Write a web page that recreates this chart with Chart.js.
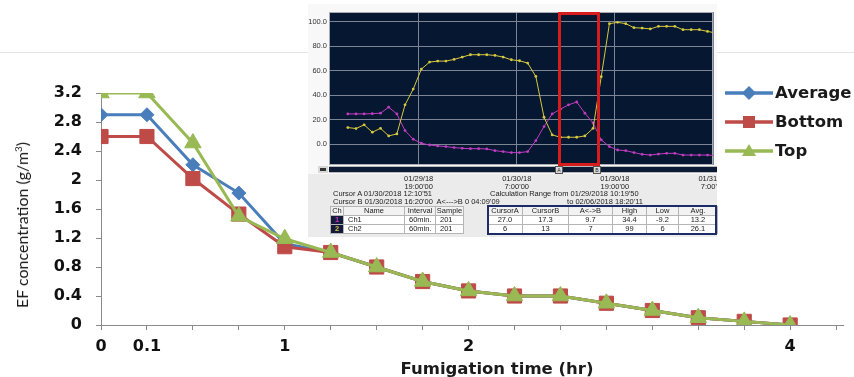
<!DOCTYPE html>
<html>
<head>
<meta charset="utf-8">
<script src="https://cdn.jsdelivr.net/npm/chart.js@4.4.1/dist/chart.umd.min.js"></script>
<style>
html,body{margin:0;padding:0;background:#fff;}
#wrap{position:relative;width:854px;height:377px;overflow:hidden;background:#fff;font-family:"Liberation Sans",Arial,sans-serif;}
#hline{position:absolute;left:0;top:52px;width:854px;height:1px;background:#e4e4e4;}
#main{position:absolute;left:0;top:0;}
#ytitle{position:absolute;left:22px;top:225px;transform:translate(-50%,-50%) rotate(-90deg);white-space:nowrap;font-family:Lato,sans-serif;font-size:16px;color:#1a1a1a;line-height:18px;}
#ytitle sup{font-size:10px;vertical-align:6px;line-height:0;}
#xtitle{position:absolute;left:497px;top:360px;transform:translateX(-50%);white-space:nowrap;font-family:"DejaVu Sans",sans-serif;font-weight:bold;font-size:16.5px;color:#1a1a1a;line-height:18px;}
.lg{position:absolute;left:725px;height:20px;display:flex;align-items:center;}
.lg svg{display:block;}
.lg span{margin-left:2px;font-family:"DejaVu Sans",sans-serif;font-weight:bold;font-size:16.5px;color:#1a1a1a;line-height:20px;}
#insetBg{position:absolute;left:308px;top:4px;width:409px;height:233px;background:#f8f8f8;}
#insetLow{position:absolute;left:308px;top:174px;width:409px;height:63px;background:#ebebeb;}
#logger{position:absolute;left:308px;top:0;}
#scroll{position:absolute;left:329px;top:166px;width:388px;height:5px;background:#0b1a35;border-top:1px solid #b8b8b8;border-bottom:1px solid #b8b8b8;}
#scrollBtn{position:absolute;left:318px;top:166px;width:10px;height:7px;background:#d8d8d8;}
#scrollBtn:after{content:"";position:absolute;left:2px;top:2px;width:6px;height:3px;background:#333;}
.cur{position:absolute;top:166px;width:6px;height:6px;background:#d9d9d9;border:1px solid #555;font-size:5px;line-height:6px;text-align:center;color:#222;}
#redbox{position:absolute;left:558px;top:12px;width:42px;height:154px;border:3px solid #d61c1c;box-sizing:border-box;}
.info{position:absolute;font-size:7.5px;color:#222;white-space:nowrap;line-height:8px;}
#tbl{position:absolute;left:330px;top:206px;border-collapse:collapse;table-layout:fixed;font-size:7.5px;color:#222;}
#tbl td,#tbl th{height:8px;padding:0;line-height:8px;border:1px solid #b5b5b5;background:#fff;text-align:center;font-weight:normal;overflow:hidden;white-space:nowrap;}
#tbl th{background:#f2f2f2;}
#tbl td.nm{text-align:left;padding-left:4px;}
#tbl .chk{background:#141a3c;font-weight:bold;}
#tbl .sp{border:none;background:transparent;}
#navy{position:absolute;left:487px;top:205px;width:230px;height:30px;border:2px solid #1d2c66;box-sizing:border-box;}
</style>
</head>
<body>
<div id="wrap">
  <div id="hline"></div>
  <canvas id="main" width="854" height="377"></canvas>
  <div id="ytitle">EF concentration (g/m<sup>3</sup>)</div>
  <div id="xtitle">Fumigation time (hr)</div>
  <div id="legend"></div>

  <div id="insetBg"></div>
  <div id="insetLow"></div>
  <canvas id="logger" width="409" height="192"></canvas>
  <div id="scrollBtn"></div>
  <div id="scroll"></div>
  <div class="cur" style="left:555px;">A</div>
  <div class="cur" style="left:593px;">B</div>
  <div id="redbox"></div>
  <div class="info" style="left:333px;top:190px;">Cursor A 01/30/2018 12:10'51</div>
  <div class="info" style="left:490px;top:190px;">Calculation Range from 01/29/2018 10:19'50</div>
  <div class="info" style="left:333px;top:198px;">Cursor B 01/30/2018 16:20'00&nbsp; A&lt;---&gt;B 0 04:09'09</div>
  <div class="info" style="left:560px;top:198px;width:83px;text-align:right;">to 02/06/2018 18:20'11</div>
  <table id="tbl">
    <colgroup>
      <col style="width:13px"><col style="width:61px"><col style="width:31px"><col style="width:28px"><col style="width:24px">
      <col style="width:35px"><col style="width:46px"><col style="width:44px"><col style="width:34px"><col style="width:32px"><col style="width:39px">
    </colgroup>
    <tbody id="tbody"></tbody>
  </table>
  <div id="navy"></div>
</div>

<script>
// ---------------- main chart data ----------------
const categories = ['0', '0.1', '', '', '1', '', '', '', '2', '', '', '', '', '', '', '4'];
const averageValues = [2.9, 2.9, 2.21, 1.82, 1.12, 1.0, 0.8, 0.6, 0.47, 0.4, 0.4, 0.3, 0.2, 0.1, 0.05, 0.0];
const bottomValues  = [2.6, 2.6, 2.02, 1.53, 1.08, 1.0, 0.8, 0.6, 0.47, 0.4, 0.4, 0.3, 0.2, 0.1, 0.05, 0.0];
const topValues     = [3.2, 3.2, 2.51, 1.5, 1.19, 1.0, 0.8, 0.6, 0.47, 0.4, 0.4, 0.3, 0.2, 0.1, 0.05, 0.0];
const yTickValues   = [0, 0.4, 0.8, 1.2, 1.6, 2, 2.4, 2.8, 3.2];
const seriesNames   = ['Average', 'Bottom', 'Top'];

// ---------------- inset (data logger) data ----------------
const loggerHours = [0,1,2,3,4,5,6,7,8,9,10,11,12,13,14,15,16,17,18,19,20,21,22,23,24,25,26,27,28,29,30,31,32,33,34,35,36,37,38,39,40,41,42,43,44,45];
const ch1Values = [24.7, 24.7, 24.7, 24.9, 25.3, 30.2, 24.7, 11.1, 4.1, 0.8, -0.6, -1.4, -1.9, -2.7, -3.3, -3.6, -3.6, -3.8, -5.2, -6.0, -6.8, -6.8, -6.0, 2.9, 14.4, 24.7, 28.6, 32.1, 34.4, 25.3, 17.3, 3.5, -1.9, -4.7, -5.2, -6.8, -8.2, -8.8, -8.0, -7.4, -7.4, -8.8, -8.8, -8.8, -8.8, -9.2];
const ch2Values = [13.6, 12.8, 15.8, 9.8, 13.0, 6.8, 8.4, 32.1, 44.9, 61.2, 66.9, 67.7, 67.7, 69.1, 71.0, 72.9, 72.9, 72.9, 72.3, 71.0, 68.8, 68.0, 66.1, 55.2, 22.0, 7.6, 5.7, 5.7, 5.7, 6.8, 13.0, 55.0, 98.2, 99.3, 98.2, 94.9, 94.6, 93.9, 96.0, 96.0, 96.0, 93.3, 93.3, 93.3, 91.9, 90.6];
const loggerGridHours = [8.67, 20.67, 32.67, 44.67];
const loggerDateLabels = [['01/29/18', "19:00'00"], ['01/30/18', "7:00'00"], ['01/30/18', "19:00'00"], ['01/31/18', "7:00'00"]];
const loggerYTicks = [0, 20, 40, 60, 80, 100];

// table
const tableHeader = ['Ch', 'Name', 'Interval', 'Sample', '', 'CursorA', 'CursorB', 'A<->B', 'High', 'Low', 'Avg.'];
const tableRows = [
  ['1', 'Ch1', '60min.', '201', '', '27.0', '17.3', '9.7', '34.4', '-9.2', '13.2'],
  ['2', 'Ch2', '60min.', '201', '', '6', '13', '7', '99', '6', '26.1']
];

const colors = { Average: '#4a7ebb', Bottom: '#be4b48', Top: '#98b954' };
const ch1Color = '#c03cc0';
const ch2Color = '#d6c83e';

// ---------- build table ----------
(function(){
  const tb = document.getElementById('tbody');
  const hr = document.createElement('tr');
  tableHeader.forEach((h, i) => {
    const th = document.createElement('th');
    th.textContent = h;
    if (i === 4) th.className = 'sp';
    hr.appendChild(th);
  });
  tb.appendChild(hr);
  tableRows.forEach((row, r) => {
    const tr = document.createElement('tr');
    row.forEach((c, i) => {
      const td = document.createElement('td');
      td.textContent = c;
      if (i === 0) { td.className = 'chk'; td.style.color = r === 0 ? ch1Color : ch2Color; }
      if (i === 1 || i === 2 || i === 3) td.className = 'nm';
      if (i === 4) td.className = 'sp';
      tr.appendChild(td);
    });
    tb.appendChild(tr);
  });
})();

// ---------- legend ----------
(function(){
  const lg = document.getElementById('legend');
  const tops = [83, 112, 141];
  const shapes = {
    Average: '<polygon points="24,3 31,10 24,17 17,10" />',
    Bottom: '<rect x="18" y="4" width="12" height="12" />',
    Top: '<polygon points="24,3 31,15 17,15" />'
  };
  seriesNames.forEach((n, i) => {
    const d = document.createElement('div');
    d.className = 'lg';
    d.style.top = tops[i] + 'px';
    d.innerHTML = '<svg width="48" height="20"><line x1="0" y1="10" x2="48" y2="10" stroke="' + colors[n] + '" stroke-width="3.5"/>' +
      '<g fill="' + colors[n] + '">' + shapes[n] + '</g></svg><span>' + n + '</span>';
    lg.appendChild(d);
  });
})();

// ---------- plot background plugin ----------
const plotBg = {
  id: 'plotBg',
  beforeDraw(chart, args, opts) {
    if (!opts || !opts.color) return;
    const { ctx, chartArea: a } = chart;
    ctx.save();
    ctx.fillStyle = opts.color;
    ctx.fillRect(a.left, a.top, a.right - a.left, a.bottom - a.top);
    ctx.restore();
  },
  beforeDatasetsDraw(chart, args, opts) {
    if (!opts || !opts.frame) return;
    const { ctx, chartArea: a } = chart;
    ctx.save();
    ctx.strokeStyle = opts.frame;
    ctx.lineWidth = 1;
    ctx.strokeRect(a.left + 0.5, a.top + 0.5, a.right - a.left - 1, a.bottom - a.top - 1);
    ctx.restore();
  }
};

// ---------- main chart ----------
const toXY = arr => arr.map((v, i) => ({ x: i, y: v }));
const boldFont = { family: 'DejaVu Sans', weight: 'bold', size: 16 };

new Chart(document.getElementById('main'), {
  type: 'line',
  data: {
    datasets: [
      { label: 'Average', data: toXY(averageValues), borderColor: colors.Average, backgroundColor: colors.Average,
        borderWidth: 3, pointStyle: 'rectRot', pointRadius: 7, pointBorderWidth: 1, pointBorderColor: colors.Average, order: 3 },
      { label: 'Bottom', data: toXY(bottomValues), borderColor: colors.Bottom, backgroundColor: colors.Bottom,
        borderWidth: 3, pointStyle: 'rect', pointRadius: 10, pointBorderWidth: 1, pointBorderColor: colors.Bottom, order: 2 },
      { label: 'Top', data: toXY(topValues), borderColor: colors.Top, backgroundColor: colors.Top,
        borderWidth: 3, pointStyle: 'triangle', pointRadius: 9.5, pointBorderWidth: 1, pointBorderColor: colors.Top, order: 1 }
    ]
  },
  options: {
    responsive: false,
    animation: false,
    layout: { padding: { top: 93, right: 3, left: 0, bottom: 0 } },
    plugins: { legend: { display: false }, tooltip: { enabled: false } },
    scales: {
      x: {
        type: 'linear', min: 0, max: 16.15,
        afterBuildTicks: s => { s.ticks = categories.map((_, i) => ({ value: i })).concat([{ value: categories.length }]); },
        ticks: { autoSkip: false, maxRotation: 0, padding: 7, color: '#111', font: boldFont,
                 callback: v => (categories[v] !== undefined ? categories[v] : '') },
        grid: { drawOnChartArea: false, drawTicks: true, tickLength: 5, color: '#8a8a8a' },
        border: { color: '#8a8a8a', width: 1 },
        afterFit: s => { s.height = 52; s.paddingLeft = 0; s.paddingRight = 0; }
      },
      y: {
        type: 'linear', min: 0, max: 3.2,
        afterBuildTicks: s => { s.ticks = yTickValues.map(v => ({ value: v })); },
        ticks: { padding: 14, color: '#111', font: boldFont, callback: v => String(v) },
        grid: { drawOnChartArea: false, drawTicks: true, tickLength: 5, color: '#8a8a8a' },
        border: { color: '#8a8a8a', width: 1 },
        afterFit: s => { s.width = 101; }
      }
    }
  }
});

// ---------- inset logger chart ----------
new Chart(document.getElementById('logger'), {
  type: 'line',
  data: {
    datasets: [
      { label: 'Ch2', data: loggerHours.map((h, i) => ({ x: h, y: ch2Values[i] })), borderColor: ch2Color, backgroundColor: ch2Color,
        borderWidth: 1, pointRadius: 1.4, pointBorderWidth: 0 },
      { label: 'Ch1', data: loggerHours.map((h, i) => ({ x: h, y: ch1Values[i] })), borderColor: ch1Color, backgroundColor: ch1Color,
        borderWidth: 1, pointRadius: 1.4, pointBorderWidth: 0 }
    ]
  },
  plugins: [plotBg],
  options: {
    responsive: false,
    animation: false,
    layout: { padding: { top: 12, right: 0, left: 0, bottom: 0 } },
    plugins: { legend: { display: false }, tooltip: { enabled: false }, plotBg: { color: '#061731', frame: '#a9acb3' } },
    scales: {
      x: {
        type: 'linear', min: -2.3, max: 44.67,
        afterBuildTicks: s => { s.ticks = loggerGridHours.map(v => ({ value: v })); },
        ticks: { autoSkip: false, maxRotation: 0, padding: 10, color: '#222',
                 font: { family: 'Liberation Sans', size: 7.5, lineHeight: 1.05 },
                 callback: (v, i) => loggerDateLabels[i] },
        grid: { drawOnChartArea: true, drawTicks: false, color: '#7d8594', lineWidth: 1 },
        border: { display: false },
        afterFit: s => { s.height = 27; s.paddingLeft = 0; s.paddingRight = 0; }
      },
      y: {
        type: 'linear', min: -16.9, max: 107.7,
        afterBuildTicks: s => { s.ticks = loggerYTicks.map(v => ({ value: v })); },
        ticks: { padding: 2, color: '#333', font: { family: 'Liberation Sans', size: 7.5 }, callback: v => v.toFixed(1) },
        grid: { drawOnChartArea: true, drawTicks: false, color: '#7d8594', lineWidth: 1 },
        border: { display: false },
        afterFit: s => { s.width = 21; s.paddingTop = 0; s.paddingBottom = 0; }
      }
    }
  }
});
</script>
</body>
</html>
